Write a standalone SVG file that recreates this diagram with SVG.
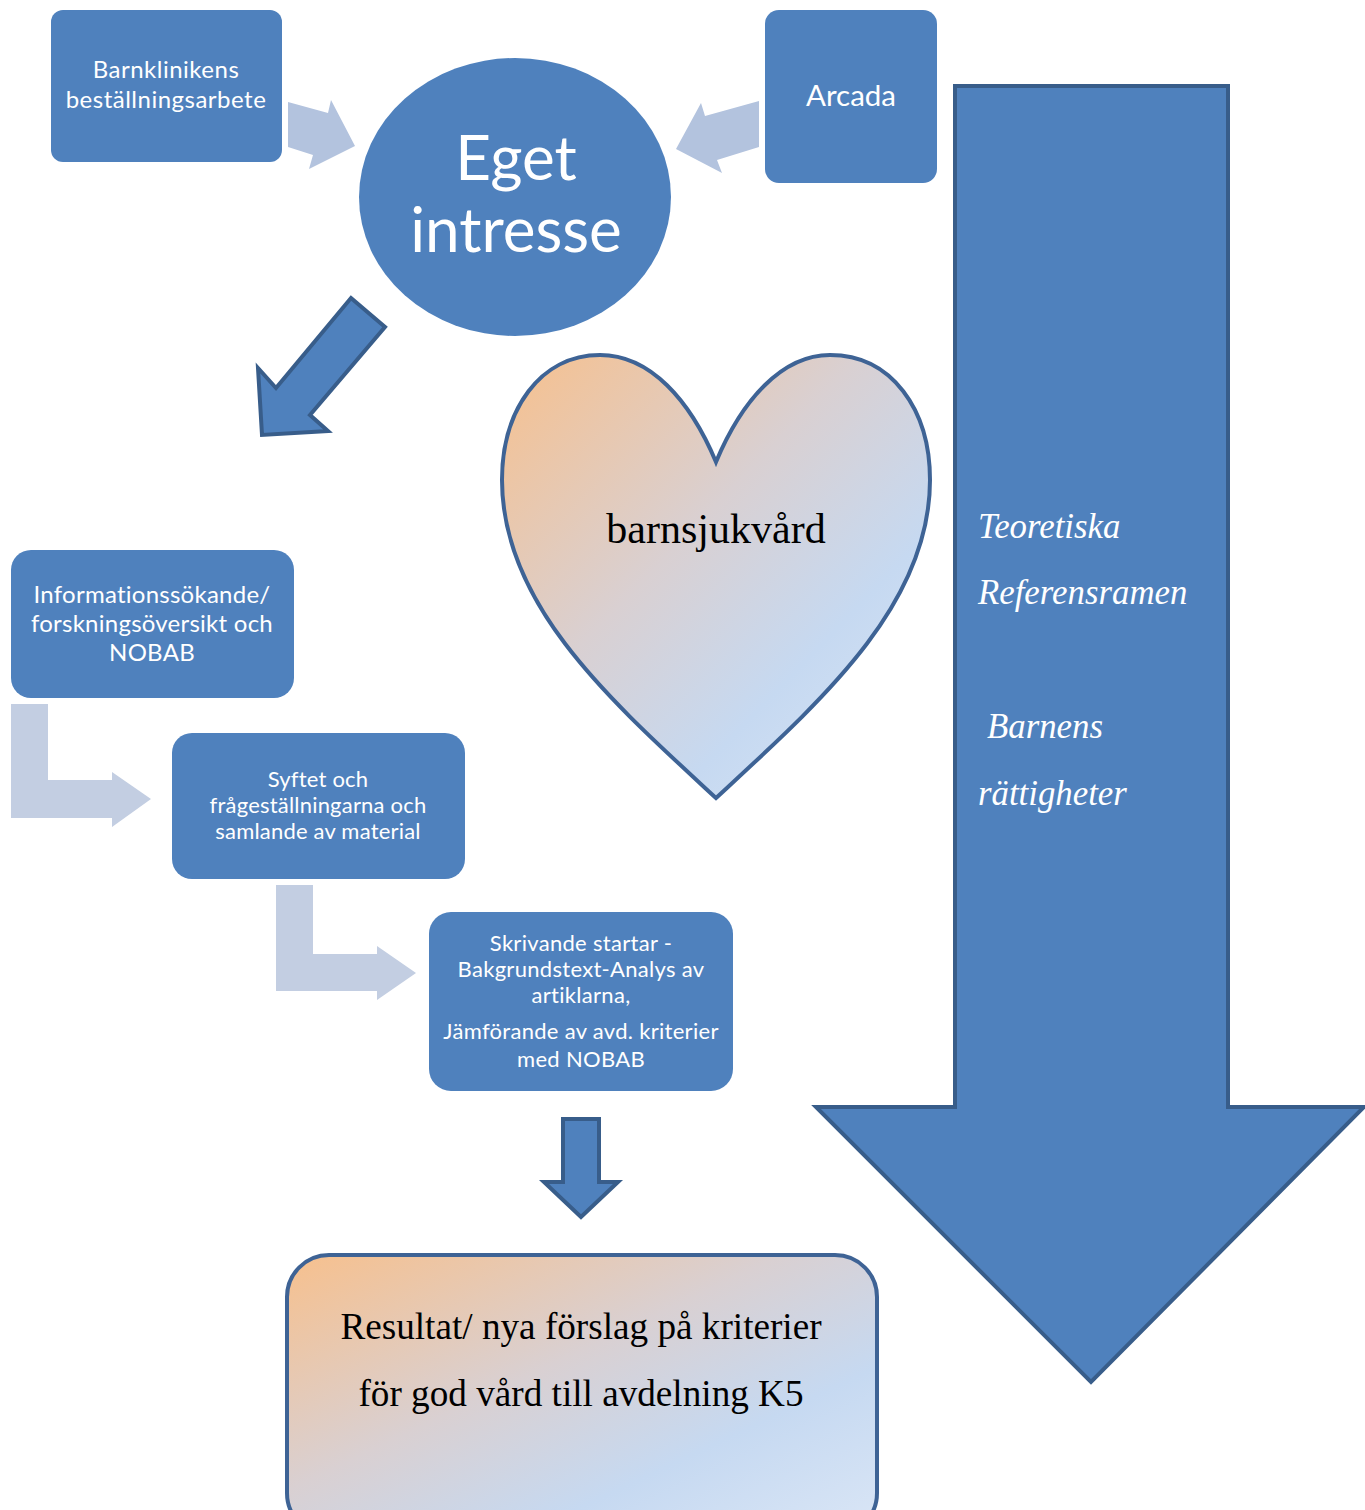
<svg xmlns="http://www.w3.org/2000/svg" width="1365" height="1510" viewBox="0 0 1365 1510">
<style>
.box{fill:#4F81BD}
.wt{fill:#FFFFFF;font-family:Lato,"Liberation Sans",sans-serif;text-anchor:middle}
.dark{fill:#4F81BD;stroke:#385D8A;stroke-width:4;stroke-linejoin:miter}
.light1{fill:#B3C3DE}
.light2{fill:#C3CEE2}
.ser{font-family:"Liberation Serif","Times New Roman",serif}
.it{fill:#FFFFFF;font-style:italic;font-size:34.8px}
</style>
<defs>
<linearGradient id="grad" x1="0" y1="0" x2="1" y2="1">
<stop offset="0" stop-color="#F7C08D"/>
<stop offset="0.42" stop-color="#D9D0D2"/>
<stop offset="0.7" stop-color="#C6D9F1"/>
<stop offset="1" stop-color="#DAE6F6"/>
</linearGradient>
</defs>
<rect width="1365" height="1510" fill="#FFFFFF"/>

<g id="big-arrow">
<polygon class="dark" points="955,86 1228,86 1228,1107 1364,1107 1091,1382 816,1107 955,1107"/>
<text class="ser it" x="978" y="538">Teoretiska</text>
<text class="ser it" x="978" y="604">Referensramen</text>
<text class="ser it" x="987" y="738">Barnens</text>
<text class="ser it" x="978" y="805">rättigheter</text>
</g>

<g id="connectors">
<polygon class="light1" points="288,102 328,113 331,100 355,146 309,169 313,155 288,147"/>
<polygon class="light1" points="759,101 705,116 701,103 676,149 722,173 717,160 759,147"/>
<polygon class="dark" points="351,298 385,327 310,415 328,431 262,435 258,368 276,388"/>
<polygon class="light2" points="11,704 48,704 48,780 112,780 112,772 151,799 112,827 112,818 11,818"/>
<polygon class="light2" points="276,885 313,885 313,954 377,954 377,946 416,973 377,1000 377,991 276,991"/>
<polygon class="dark" points="563,1119 599,1119 599,1182 618,1182 581,1217 544,1182 563,1182" stroke-width="3.5"/>
</g>

<g id="barnklinikens">
<rect class="box" x="51" y="10" width="231" height="152" rx="12"/>
<text class="wt" x="166" y="78" font-size="24" letter-spacing="0.5">Barnklinikens</text>
<text class="wt" x="166" y="108" font-size="24" letter-spacing="0.5">beställningsarbete</text>
</g>

<g id="arcada">
<rect class="box" x="765" y="10" width="172" height="173" rx="14"/>
<text class="wt" x="851" y="106" font-size="29.5">Arcada</text>
</g>

<g id="eget-intresse">
<ellipse class="box" cx="515" cy="197" rx="156" ry="139"/>
<text class="wt" x="516" y="180" font-size="62">Eget</text>
<text class="wt" x="516" y="252" font-size="62">intresse</text>
</g>

<g id="heart">
<path d="M716,462 C690,400 650,355 600,355 C540,355 502,410 502,480 C502,605 610,700 716,798 C822,700 930,605 930,480 C930,410 892,355 830,355 C782,355 742,400 716,462 Z" fill="url(#grad)" stroke="#3E6395" stroke-width="4"/>
<text class="ser" x="716" y="543" font-size="42" text-anchor="middle" fill="#000000">barnsjukvård</text>
</g>

<g id="informationssokande">
<rect class="box" x="11" y="550" width="283" height="148" rx="20"/>
<text class="wt" x="152" y="603" font-size="24" letter-spacing="0.25">Informationssökande/</text>
<text class="wt" x="152" y="632" font-size="24" letter-spacing="0.25">forskningsöversikt och</text>
<text class="wt" x="152" y="661" font-size="24" letter-spacing="0.25">NOBAB</text>
</g>

<g id="syftet">
<rect class="box" x="172" y="733" width="293" height="146" rx="20"/>
<text class="wt" x="318" y="787" font-size="22" letter-spacing="0.2">Syftet och</text>
<text class="wt" x="318" y="813" font-size="22" letter-spacing="0.2">frågeställningarna och</text>
<text class="wt" x="318" y="839" font-size="22" letter-spacing="0.2">samlande av material</text>
</g>

<g id="skrivande">
<rect class="box" x="429" y="912" width="304" height="179" rx="22"/>
<text class="wt" x="581" y="951" font-size="22" letter-spacing="0.3">Skrivande startar -</text>
<text class="wt" x="581" y="977" font-size="22" letter-spacing="0.3">Bakgrundstext-Analys av</text>
<text class="wt" x="581" y="1003" font-size="22" letter-spacing="0.3">artiklarna,</text>
<text class="wt" x="581" y="1039" font-size="22" letter-spacing="0.3">Jämförande av avd. kriterier</text>
<text class="wt" x="581" y="1067" font-size="22" letter-spacing="0.3">med NOBAB</text>
</g>

<g id="resultat">
<rect x="287" y="1255" width="590" height="280" rx="42" fill="url(#grad)" stroke="#3E6395" stroke-width="4"/>
<text class="ser" x="581" y="1339" font-size="37.2" text-anchor="middle" fill="#000000">Resultat/ nya förslag på kriterier</text>
<text class="ser" x="581" y="1406" font-size="37.2" text-anchor="middle" fill="#000000">för god vård till avdelning K5</text>
</g>
</svg>
